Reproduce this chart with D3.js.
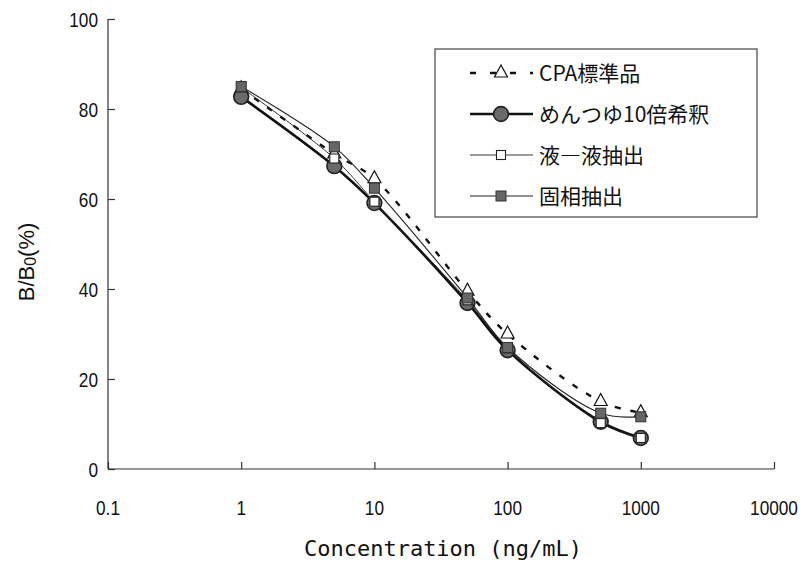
<!DOCTYPE html>
<html>
<head>
<meta charset="utf-8">
<script src="https://cdn.jsdelivr.net/npm/d3@7"></script>
<style>
  body { margin: 0; background: #fff; }
  svg text { font-family: "Liberation Sans", "Noto Sans CJK JP", sans-serif; fill: #111; }
</style>
</head>
<body>
<div id="chart"></div>
<script>
// concentrations (ng/mL)
const conc = [1, 5, 10, 50, 100, 500, 1000];

// B/B0 (%) per series
const cpaStd    = [84.5, 70.0, 64.5, 39.5, 30.0, 15.0, 12.5];
const mentsuyu  = [82.7, 67.3, 59.1, 36.9, 26.4, 10.5, 6.9];
const liqLiq    = [84.8, 69.0, 59.4, 37.5, 26.8, 10.2, 6.9];
const solidPh   = [85.0, 71.6, 62.4, 38.0, 27.0, 12.4, 11.6];

const seriesNames = ['CPA標準品', 'めんつゆ10倍希釈', '液―液抽出', '固相抽出'];
const xTicks = [0.1, 1, 10, 100, 1000, 10000];
const yTicks = [0, 20, 40, 60, 80, 100];

const W = 809, H = 566;
const margin = { left: 108, right: 35, top: 19, bottom: 97 };

const svg = d3.select('#chart').append('svg')
    .attr('width', W).attr('height', H);

const x = d3.scaleLog().domain([0.1, 10000]).range([margin.left, 774]);
const y = d3.scaleLinear().domain([0, 100]).range([469, margin.top]);

// axes (ticks point inward)
const xAxis = svg.append('g')
    .attr('transform', `translate(0,${y(0)})`)
    .call(d3.axisTop(x).tickValues(xTicks).tickSize(7).tickFormat(''));
xAxis.select('.domain').attr('d', `M${x(0.1)},0H${x(10000)}`);
xAxis.selectAll('line, path').attr('stroke', '#333').attr('stroke-width', 1.2);

const yAxis = svg.append('g')
    .attr('transform', `translate(${x(0.1)},0)`)
    .call(d3.axisRight(y).tickValues(yTicks).tickSize(7).tickFormat(''));
yAxis.select('.domain').attr('d', `M0,${y(100)}V${y(0)}`);
yAxis.selectAll('line, path').attr('stroke', '#333').attr('stroke-width', 1.2);

// tick labels (narrow, tall digits)
svg.append('g').selectAll('text').data(xTicks).join('text')
    .attr('transform', d => `translate(${x(d)},515) scale(0.82,1)`)
    .attr('text-anchor', 'middle')
    .attr('font-size', 21)
    .text(d => d);

svg.append('g').selectAll('text').data(yTicks).join('text')
    .attr('transform', d => `translate(98,${y(d) + 7.5}) scale(0.82,1)`)
    .attr('text-anchor', 'end')
    .attr('font-size', 21)
    .text(d => d);

// axis titles
svg.append('text')
    .attr('x', 443).attr('y', 556)
    .attr('text-anchor', 'middle')
    .attr('font-size', 22)
    .style('font-family', '"DejaVu Sans Mono", monospace')
    .text('Concentration (ng/mL)');

const yt = svg.append('text')
    .attr('transform', `translate(34,262) rotate(-90)`)
    .attr('text-anchor', 'middle')
    .attr('font-size', 22);
yt.append('tspan').text('B/B');
yt.append('tspan').attr('font-size', 16).attr('dy', 2).text('0');
yt.append('tspan').attr('dy', -2).text('(%)');

// lines
const line = d3.line()
    .x(d => x(d[0])).y(d => y(d[1]))
    .curve(d3.curveCatmullRom.alpha(0.5));

const pts = vals => conc.map((c, i) => [c, vals[i]]);

const styles = [
  { vals: cpaStd,   stroke: '#111', width: 2.4, dash: '6,10' },
  { vals: mentsuyu, stroke: '#111', width: 2.6, dash: null },
  { vals: liqLiq,   stroke: '#222', width: 0.9, dash: null },
  { vals: solidPh,  stroke: '#222', width: 1.1, dash: null }
];

function drawMarker(g, k, cx, cy) {
  if (k === 0) {
    g.append('path')
      .attr('d', `M${cx},${cy - 8}L${cx + 6.5},${cy + 4}L${cx - 6.5},${cy + 4}Z`)
      .attr('fill', '#fff').attr('stroke', '#111').attr('stroke-width', 1.2);
  } else if (k === 1) {
    g.append('circle').attr('cx', cx).attr('cy', cy).attr('r', 7.4)
      .attr('fill', '#6a6a6a').attr('stroke', '#222').attr('stroke-width', 1.6);
  } else if (k === 2) {
    g.append('rect').attr('x', cx - 4.5).attr('y', cy - 4.5)
      .attr('width', 9).attr('height', 9)
      .attr('fill', '#fff').attr('stroke', '#222').attr('stroke-width', 1.1);
  } else {
    g.append('rect').attr('x', cx - 5).attr('y', cy - 5)
      .attr('width', 10).attr('height', 10)
      .attr('fill', '#666').attr('stroke', '#333').attr('stroke-width', 1);
  }
}

styles.forEach((s, k) => {
  const g = svg.append('g');
  g.append('path')
    .datum(pts(s.vals))
    .attr('fill', 'none')
    .attr('stroke', s.stroke)
    .attr('stroke-width', s.width)
    .attr('stroke-dasharray', s.dash)
    .attr('d', line);
  pts(s.vals).forEach(d => drawMarker(g, k, x(d[0]), y(d[1])));
});

// legend
const lg = svg.append('g');
lg.append('rect')
  .attr('x', 435).attr('y', 49).attr('width', 322).attr('height', 168)
  .attr('fill', '#fff').attr('stroke', '#444').attr('stroke-width', 1.2);

seriesNames.forEach((name, k) => {
  const ly = 73 + k * 41;
  const s = styles[k];
  lg.append('line')
    .attr('x1', 470).attr('x2', 533).attr('y1', ly).attr('y2', ly)
    .attr('stroke', s.stroke).attr('stroke-width', s.width)
    .attr('stroke-dasharray', k === 0 ? '6,14' : s.dash);
  drawMarker(lg, k, 501, ly);
  lg.append('text')
    .attr('x', 539).attr('y', ly + 8)
    .attr('font-size', 21)
    .style('font-family', '"Noto Sans CJK JP", sans-serif')
    .text(name);
});
</script>
</body>
</html>
